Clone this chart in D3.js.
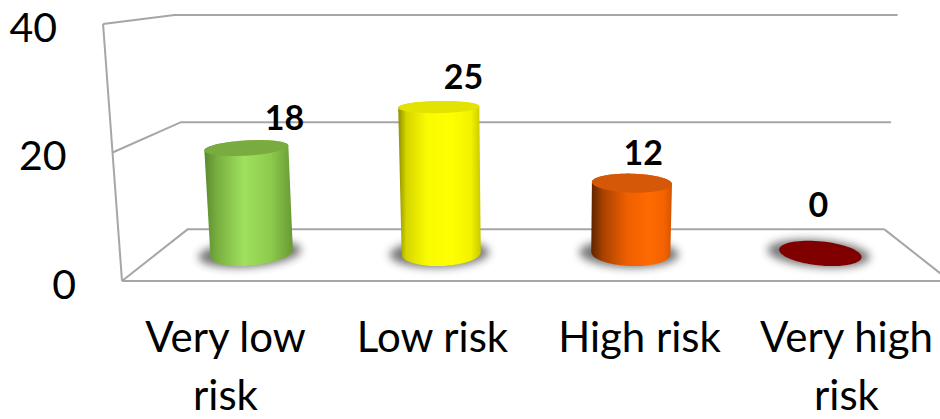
<!DOCTYPE html>
<html>
<head>
<meta charset="utf-8">
<script src="https://cdn.jsdelivr.net/npm/d3@7"></script>
<style>
  html, body { margin: 0; padding: 0; background: #fff; overflow: hidden; }
  svg { display: block; }
  text { font-family: Lato, "Open Sans", sans-serif; fill: #000; }
</style>
</head>
<body>
<svg id="chart" width="940" height="419"></svg>
<script>
// Risk categories and their counts
const categories = ["Very low risk", "Low risk", "High risk", "Very high risk"];
const values = [18, 25, 12, 0];
const yTicks = [0, 20, 40];
const colors = ["#92d050", "#ffff00", "#ff6600", "#800000"];

const svg = d3.select("#chart");
const defs = svg.append("defs");

// Scales on the front face of the 3D plot box
const x = d3.scaleBand().domain(categories).range([122, 950]);
const y = d3.scaleLinear().domain([0, 40]).range([281, 24]);

// Perspective camera: depth recedes towards (cx, vy); verticals lean slightly inward below
const cx = 536, vy = -30, focal = 1261, depth = 251, keyY = 5900, keyRef = 281;
function project(X, Y, Z) {
  const s = focal / (focal + Z);
  let px = cx + (X - cx) * s;
  const py = vy + (Y - vy) * s;
  px = cx + (px - cx) * (keyY - py) / (keyY - keyRef);
  return [px, py];
}
const line = d3.line();

const x0 = x.range()[0], x1 = x.range()[1];
const grid = svg.append("g").attr("fill", "none").attr("stroke", "#a6a6a6").attr("stroke-width", 2);

// Wall gridlines (left side wall + back wall)
yTicks.forEach(t => {
  grid.append("path").attr("d", line([
    project(x0, y(t), 0), project(x0, y(t), depth), project(x1, y(t), depth)
  ]));
});
// Front-left edge of the side wall
grid.append("path").attr("d", line([project(x0, y(0), 0), project(x0, y(40), 0)]));
// Floor front and right edges
grid.append("path").attr("d", line([
  project(x0, y(0), 0), project(x1, y(0), 0), project(x1, y(0), depth)
]));

// Soft shadow filter
defs.append("filter").attr("id", "blur").attr("x", "-50%").attr("y", "-100%")
  .attr("width", "200%").attr("height", "300%")
  .append("feGaussianBlur").attr("stdDeviation", 4.5);

// Body shading gradients for each cylinder
const shades = [
  { stops: [[0, "#5b8a2c"], [0.15, "#79b040"], [0.45, "#9fe15e"], [0.75, "#8ccb4c"], [1, "#689a34"]], top: "#78ac40" },
  { stops: [[0, "#8f8f00"], [0.1, "#d6d600"], [0.35, "#fbfb00"], [0.65, "#ffff00"], [0.88, "#f2f200"], [1, "#c9c900"]], top: "#e3e300" },
  { stops: [[0, "#5e2400"], [0.15, "#a94200"], [0.45, "#f06000"], [0.72, "#ff6a00"], [0.9, "#f46300"], [1, "#d65400"]], top: "#d55808" },
  { stops: [[0, "#6a0000"], [0.5, "#800000"], [1, "#700000"]], top: "#800000" }
];

const r = 43, rz = 62, zc = depth / 2;
function ring(Xc, Y, rx, rzz) {
  return d3.range(73).map(i => {
    const a = (i / 72) * 2 * Math.PI;
    return project(Xc + rx * Math.cos(a), Y, zc + rzz * Math.sin(a));
  });
}

const bars = svg.append("g");
categories.forEach((c, i) => {
  const v = values[i];
  const Xc = x(c) + x.bandwidth() / 2;
  const base = ring(Xc, y(0), r, rz);
  const top = ring(Xc, y(v), r, rz);

  // Shadow on the floor
  bars.append("path")
    .attr("d", line(ring(Xc - 2, y(0), r + 11, rz + 6)) + "Z")
    .attr("fill", "#6f6f6f").attr("opacity", 0.95)
    .attr("filter", "url(#blur)");

  const hull = d3.polygonHull(base.concat(top));
  const xs = hull.map(p => p[0]);
  const gid = "grad" + i;
  const g = defs.append("linearGradient").attr("id", gid)
    .attr("gradientUnits", "userSpaceOnUse")
    .attr("x1", d3.min(xs)).attr("x2", d3.max(xs)).attr("y1", 0).attr("y2", 0);
  shades[i].stops.forEach(s => g.append("stop").attr("offset", s[0]).attr("stop-color", s[1]));

  if (v > 0) {
    bars.append("path").attr("d", line(hull) + "Z").attr("fill", `url(#${gid})`);
  }
  bars.append("path").attr("d", line(top) + "Z").attr("fill", shades[i].top);
});

// Value labels above each cylinder
const labels = svg.append("g").attr("font-weight", "bold").attr("font-size", 34).attr("text-anchor", "middle");
categories.forEach((c, i) => {
  const v = values[i];
  const Xc = x(c) + x.bandwidth() / 2;
  const [sx, sy] = project(Xc, y(v), zc);
  const backY = project(Xc, y(0), depth)[1];
  const ly = Math.min(sy - 30, backY - 25);
  labels.append("text")
    .attr("x", sx + 0.068 * (800 - sx))
    .attr("y", ly)
    .attr("dy", "0.36em")
    .text(v);
});

// Value axis labels along the side wall edge
const yAxis = svg.append("g").attr("font-size", 41).attr("text-anchor", "end");
yTicks.forEach(t => {
  const [px, py] = project(x0, y(t), 0);
  yAxis.append("text").attr("x", px - 46).attr("y", py + 3).attr("dy", "0.36em").text(t);
});

// Category labels, wrapped to the band width
const baseY = 352, lineGap = 58;
const xAxis = svg.append("g").attr("font-size", 42).attr("text-anchor", "middle");
categories.forEach(c => {
  const cxp = x(c) + x.bandwidth() / 2;
  const t = xAxis.append("text").attr("x", cxp).attr("y", baseY);
  const words = c.split(" ");
  let lineWords = [], lineNo = 0;
  let tspan = t.append("tspan").attr("x", cxp).attr("y", baseY);
  words.forEach(w => {
    lineWords.push(w);
    tspan.text(lineWords.join(" "));
    if (tspan.node().getComputedTextLength() > 190 && lineWords.length > 1) {
      lineWords.pop();
      tspan.text(lineWords.join(" "));
      lineWords = [w];
      lineNo++;
      tspan = t.append("tspan").attr("x", cxp).attr("y", baseY + lineNo * lineGap).text(w);
    }
  });
});
</script>
</body>
</html>
